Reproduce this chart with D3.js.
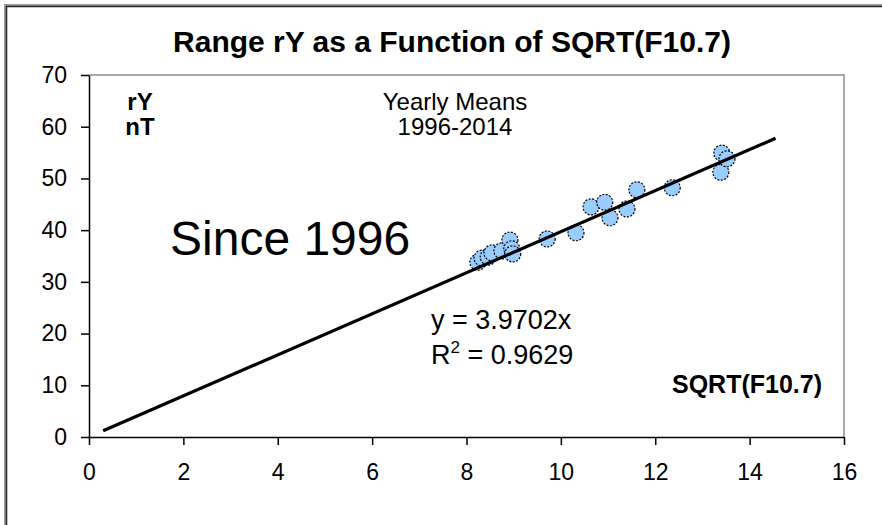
<!DOCTYPE html>
<html>
<head>
<meta charset="utf-8">
<script src="https://cdn.jsdelivr.net/npm/d3@7"></script>
<style>
  html, body { margin: 0; padding: 0; background: #fff; }
  svg { display: block; font-family: Arial, "Liberation Sans", sans-serif; }
</style>
</head>
<body>
<svg id="chart" width="882" height="525"></svg>
<script>
// Yearly means 1996-2014: square root of F10.7 flux vs. range rY (nT)
const sqrtF107 = [8.24, 8.33, 8.46, 8.54, 8.75, 8.92, 8.96, 8.98, 9.71, 10.32,
                  10.64, 10.93, 11.04, 11.40, 11.61, 12.36, 13.39, 13.41, 13.52];
const rangeRY  = [33.8, 34.6, 34.8, 35.6, 36.0, 38.1, 36.4, 35.4, 38.3, 39.5,
                  44.5, 45.4, 42.4, 44.1, 47.8, 48.2, 51.2, 54.9, 53.8];

// Regression through the origin
const slope = 3.9702;
const rSquared = 0.9629;
const fitRange = [0.3, 14.55];

const xTicks = [0, 2, 4, 6, 8, 10, 12, 14, 16];
const yTicks = [0, 10, 20, 30, 40, 50, 60, 70];

const svg = d3.select("#chart");

// Outer chart frame
svg.append("rect")
  .attr("x", 5.5).attr("y", 5.5)
  .attr("width", 900).attr("height", 560)
  .attr("fill", "none").attr("stroke", "#9a9a9a").attr("stroke-width", 3);
svg.append("rect")
  .attr("x", 6.5).attr("y", 6.5)
  .attr("width", 900).attr("height", 560)
  .attr("fill", "none").attr("stroke", "#222").attr("stroke-width", 1.5);

const plot = { left: 89, right: 844, top: 75, bottom: 437 };

const x = d3.scaleLinear().domain([0, 16]).range([plot.left, plot.right]);
const y = d3.scaleLinear().domain([0, 70]).range([plot.bottom, plot.top]);

// Plot area: grey top/right edges
svg.append("path")
  .attr("d", `M${plot.left},${plot.top}H${plot.right}V${plot.bottom}`)
  .attr("fill", "none").attr("stroke", "#8c8c8c").attr("stroke-width", 1.5);

// Axes
const xAxis = svg.append("g")
  .attr("transform", `translate(0,${plot.bottom})`)
  .call(d3.axisBottom(x).tickValues(xTicks).tickSize(8).tickSizeOuter(0).tickPadding(19));
const yAxis = svg.append("g")
  .attr("transform", `translate(${plot.left},0)`)
  .call(d3.axisLeft(y).tickValues(yTicks).tickSize(8).tickSizeOuter(0).tickPadding(14));

[xAxis, yAxis].forEach(g => {
  g.select(".domain").attr("stroke", "#000").attr("stroke-width", 1.5);
  g.selectAll(".tick line").attr("stroke", "#000").attr("stroke-width", 1.5);
  g.selectAll(".tick text")
    .attr("fill", "#000")
    .style("font-family", "Arial, 'Liberation Sans', sans-serif")
    .style("font-size", "23px");
});

// Data markers
svg.append("g")
  .selectAll("circle")
  .data(sqrtF107.map((v, i) => [v, rangeRY[i]]))
  .join("circle")
  .attr("cx", d => x(d[0]))
  .attr("cy", d => y(d[1]))
  .attr("r", 8)
  .attr("fill", "#99ccff")
  .attr("stroke", "#000")
  .attr("stroke-width", 1.2)
  .attr("stroke-dasharray", "2,1.5");

// Fitted line y = slope * x
svg.append("line")
  .attr("x1", x(fitRange[0])).attr("y1", y(slope * fitRange[0]))
  .attr("x2", x(fitRange[1])).attr("y2", y(slope * fitRange[1]))
  .attr("stroke", "#000").attr("stroke-width", 3.2);

// Title
svg.append("text")
  .attr("x", 452).attr("y", 52)
  .attr("text-anchor", "middle")
  .style("font-size", "30px").style("font-weight", "bold")
  .text("Range rY as a Function of SQRT(F10.7)");

// Axis labels inside the plot
svg.append("text").attr("x", 140).attr("y", 110).attr("text-anchor", "middle")
  .style("font-size", "24px").style("font-weight", "bold").text("rY");
svg.append("text").attr("x", 140).attr("y", 135).attr("text-anchor", "middle")
  .style("font-size", "24px").style("font-weight", "bold").text("nT");
svg.append("text").attr("x", 822).attr("y", 393).attr("text-anchor", "end")
  .style("font-size", "25px").style("font-weight", "bold").text("SQRT(F10.7)");

// Notes
svg.append("text").attr("x", 455).attr("y", 110).attr("text-anchor", "middle")
  .style("font-size", "24px").text("Yearly Means");
svg.append("text").attr("x", 455).attr("y", 135).attr("text-anchor", "middle")
  .style("font-size", "24px").text("1996-2014");
svg.append("text").attr("x", 170).attr("y", 255)
  .style("font-size", "48px").text("Since 1996");

// Regression equation
svg.append("text").attr("x", 431).attr("y", 329)
  .style("font-size", "27px").text(`y = ${slope}x`);
const r2 = svg.append("text").attr("x", 431).attr("y", 364).style("font-size", "27px");
r2.append("tspan").text("R");
r2.append("tspan").attr("dy", -11).style("font-size", "17px").text("2");
r2.append("tspan").attr("dy", 11).text(` = ${rSquared}`);
</script>
</body>
</html>
